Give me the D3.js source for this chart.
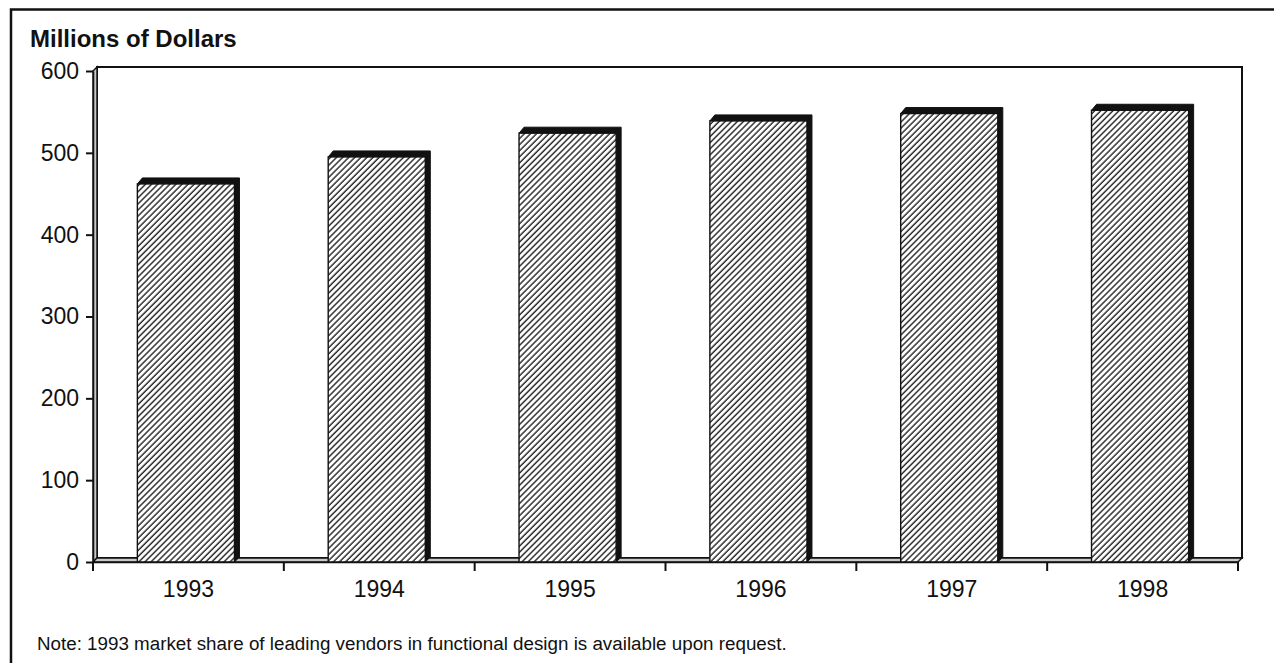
<!DOCTYPE html>
<html>
<head>
<meta charset="utf-8">
<script src="https://cdn.jsdelivr.net/npm/d3@7"></script>
<style>
  html, body { margin: 0; padding: 0; background: #fff; }
  svg { display: block; }
  text { font-family: "Liberation Sans", Arial, Helvetica, sans-serif; fill: #111; }
</style>
</head>
<body>
<svg id="chart" width="1274" height="663"></svg>
<script>
// Annual revenue, millions of dollars
const years = ["1993", "1994", "1995", "1996", "1997", "1998"];
const revenue = [462, 495, 524, 539, 548, 552];
const yTicks = [0, 100, 200, 300, 400, 500, 600];
const yTitle = "Millions of Dollars";
const note = "Note: 1993 market share of leading vendors in functional design is available upon request.";

const svg = d3.select("#chart");
const W = 1274, H = 663;
const depth = 5;              // 3-D offset of walls and bars
const plotL = 93, plotR = 1238, plotT = 71, plotB = 562;

const x = d3.scaleBand().domain(years).range([plotL, plotR]).padding(0);
const y = d3.scaleLinear().domain([0, 600]).range([plotB, plotT]);

// hatch fill for the bar faces
const defs = svg.append("defs");
const pat = defs.append("pattern")
  .attr("id", "hatch")
  .attr("patternUnits", "userSpaceOnUse")
  .attr("width", 4.3).attr("height", 10)
  .attr("patternTransform", "rotate(45)");
pat.append("rect").attr("width", 4.3).attr("height", 10).attr("fill", "#fff");
pat.append("line").attr("x1", 1).attr("y1", 0).attr("x2", 1).attr("y2", 10)
  .attr("stroke", "#222").attr("stroke-width", 1.4);

// outer frame
svg.append("rect")
  .attr("x", 11).attr("y", 9.5).attr("width", W + 20).attr("height", H + 20)
  .attr("fill", "none").attr("stroke", "#111").attr("stroke-width", 2.5);

// back wall
svg.append("rect")
  .attr("x", plotL + depth - 1).attr("y", plotT - depth + 1)
  .attr("width", plotR - plotL).attr("height", plotB - plotT)
  .attr("fill", "#fff").attr("stroke", "#111").attr("stroke-width", 2);

// left wall
svg.append("path")
  .attr("d", `M${plotL},${plotB} L${plotL},${plotT} L${plotL + depth - 1},${plotT - depth + 1} L${plotL + depth - 1},${plotB - depth + 1} Z`)
  .attr("fill", "#c8c8c8").attr("stroke", "#111").attr("stroke-width", 1.4);

// floor
svg.append("path")
  .attr("d", `M${plotL},${plotB} L${plotL + depth - 1},${plotB - depth + 1} L${plotR + depth - 1},${plotB - depth + 1} L${plotR},${plotB} Z`)
  .attr("fill", "#c8c8c8").attr("stroke", "#111").attr("stroke-width", 1.4);

// bars: hatched front, solid top and side
const barW = x.bandwidth() * 0.535;
const frontW = barW - depth;
const bars = svg.append("g").selectAll("g").data(years).join("g");
bars.each(function (d, i) {
  const g = d3.select(this);
  const x0 = x(d) + (x.bandwidth() - barW) / 2;
  const x1 = x0 + frontW;
  const yt = y(revenue[i]);
  g.append("path")
    .attr("d", `M${x0},${yt} L${x0 + depth},${yt - depth - 1} L${x1 + depth},${yt - depth - 1} L${x1 + depth},${y(0) - depth} L${x1},${y(0)} L${x1},${yt} Z`)
    .attr("fill", "#111").attr("stroke", "#111").attr("stroke-width", 1).attr("stroke-linejoin", "round");
  g.append("rect")
    .attr("x", x0).attr("y", yt)
    .attr("width", frontW).attr("height", y(0) - yt)
    .attr("fill", "url(#hatch)").attr("stroke", "#111").attr("stroke-width", 1.4);
});

// y axis
const yAxis = svg.append("g")
  .attr("transform", `translate(${plotL},0)`)
  .call(d3.axisLeft(y).tickValues(yTicks).tickSize(7).tickSizeOuter(0).tickPadding(7));
yAxis.select(".domain").attr("stroke", "#111").attr("stroke-width", 1.6);
yAxis.selectAll(".tick line").attr("stroke", "#111").attr("stroke-width", 2);
yAxis.selectAll(".tick text").attr("font-size", 23).attr("fill", "#111")
  .attr("font-family", "'Liberation Sans', Arial, sans-serif");

// x axis: labels centred in each band, ticks on band boundaries
const xAxis = svg.append("g")
  .attr("transform", `translate(0,${plotB})`)
  .call(d3.axisBottom(x).tickSize(0).tickPadding(19).tickSizeOuter(0));
xAxis.select(".domain").attr("stroke", "#111").attr("stroke-width", 1.6);
xAxis.selectAll(".tick text").attr("font-size", 23).attr("fill", "#111")
  .attr("font-family", "'Liberation Sans', Arial, sans-serif");
const bounds = years.map(d => x(d)).concat([x.range()[1]]);
svg.append("g").selectAll("line").data(bounds).join("line")
  .attr("x1", d => d).attr("x2", d => d)
  .attr("y1", plotB).attr("y2", plotB + 9)
  .attr("stroke", "#111").attr("stroke-width", 2);

// axis title
svg.append("text")
  .attr("x", 30).attr("y", 47)
  .attr("font-size", 24).attr("font-weight", "bold")
  .text(yTitle);

// footnote
svg.append("text")
  .attr("x", 37).attr("y", 650)
  .attr("font-size", 18.8)
  .text(note);
</script>
</body>
</html>
